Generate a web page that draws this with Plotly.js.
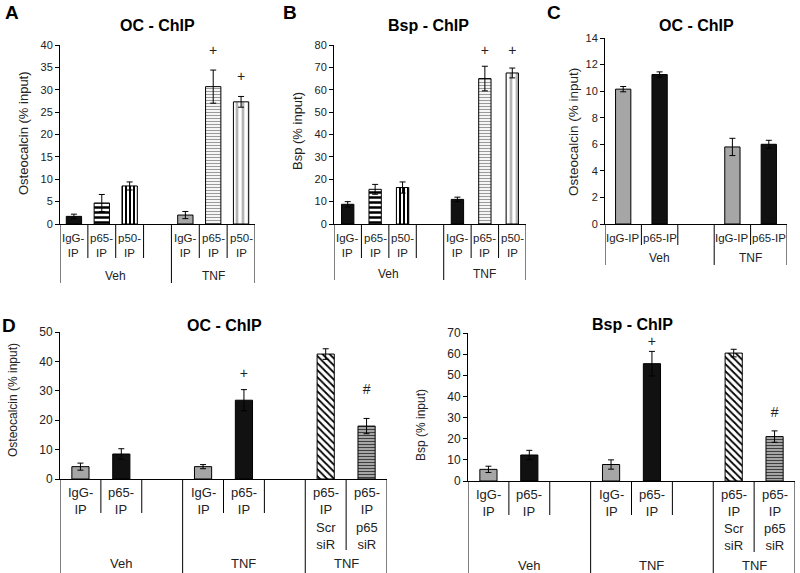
<!DOCTYPE html>
<html><head><meta charset="utf-8">
<script src="https://cdn.plot.ly/plotly-3.0.1.min.js"></script>
<style>body{margin:0;background:#fff;} #chart{width:800px;height:573px;}</style>
</head><body><div id="chart"></div>
<script>
// ---------- DATA ----------
// Panel A: OC - ChIP
const catsA = ["Veh IgG","Veh p65","Veh p50","gapA","TNF IgG","TNF p65","TNF p50"];
const tickLabelsA = ["IgG-<br>IP","p65-<br>IP","p50-<br>IP","","IgG-<br>IP","p65-<br>IP","p50-<br>IP"];
const groupNamesA = ["Veh","TNF"];
const groupSpansA = [[0,3],[4,6]];
const xA = ["Veh IgG","Veh p65","Veh p50","TNF IgG","TNF p65","TNF p50"];
const valA = [1.7, 4.7, 8.5, 2.0, 30.7, 27.3];
const errA = [0.5, 1.9, 0.9, 0.8, 3.7, 1.2];
const sigA = ["","","","","+","+"];
const sigYA = [null,null,null,null,38.5,32.8];

// Panel B: Bsp - ChIP
const catsB = ["Veh IgG","Veh p65","Veh p50","gapB","TNF IgG","TNF p65","TNF p50"];
const tickLabelsB = ["IgG-<br>IP","p65-<br>IP","p50-<br>IP","","IgG-<br>IP","p65-<br>IP","p50-<br>IP"];
const groupNamesB = ["Veh","TNF"];
const groupSpansB = [[0,3],[4,6]];
const xB = ["Veh IgG","Veh p65","Veh p50","TNF IgG","TNF p65","TNF p50"];
const valB = [8.8, 15.5, 16.3, 11.0, 65.0, 67.5];
const errB = [1.2, 2.2, 2.5, 1.0, 5.5, 2.2];
const sigB = ["","","","","+","+"];
const sigYB = [null,null,null,null,77,77];

// Panel C: OC - ChIP
const catsC = ["Veh IgG","Veh p65","gapC","TNF IgG","TNF p65"];
const tickLabelsC = ["IgG-IP","p65-IP","","IgG-IP","p65-IP"];
const groupNamesC = ["Veh","TNF"];
const groupSpansC = [[0,2],[3,4]];
const xC = ["Veh IgG","Veh p65","TNF IgG","TNF p65"];
const valC = [10.15, 11.25, 5.8, 6.0];
const errC = [0.2, 0.2, 0.65, 0.3];

// Panel D (left): OC - ChIP
const catsD1 = ["Veh IgG","Veh p65","gap1","TNF IgG","TNF p65","gap2","TNF Scr","TNF siR"];
const tickLabelsD1 = ["IgG-<br>IP","p65-<br>IP","","IgG-<br>IP","p65-<br>IP","","p65-<br>IP","p65-<br>IP"];
const subLabelsD1 = ["","","","","","","Scr<br>siR","p65<br>siR"];
const groupNamesD1 = ["Veh","TNF","TNF"];
const groupSpansD1 = [[0,2],[3,5],[6,7]];
const xD1 = ["Veh IgG","Veh p65","TNF IgG","TNF p65","TNF Scr","TNF siR"];
const valD1 = [4.2, 8.5, 4.2, 26.8, 42.5, 18.0];
const errD1 = [1.2, 1.8, 0.7, 3.6, 1.8, 2.6];
const sigD1 = ["","","","+","","#"];
const sigYD1 = [null,null,null,35.5,null,30];

// Panel D (right): Bsp - ChIP
const catsD2 = catsD1;
const tickLabelsD2 = tickLabelsD1;
const subLabelsD2 = subLabelsD1;
const groupNamesD2 = groupNamesD1;
const groupSpansD2 = groupSpansD1;
const xD2 = xD1;
const valD2 = [5.5, 12.3, 7.8, 55.5, 60.5, 21.0];
const errD2 = [1.5, 2.2, 2.2, 5.8, 1.8, 2.7];
const sigD2 = ["","","","+","","#"];
const sigYD2 = [null,null,null,65.5,null,32];

// ---------- STYLES ----------
const BLK = "#111111", GRY = "#a6a6a6", WHT = "#ffffff";
const styleA = {
  fill:  [BLK, WHT, WHT, GRY, WHT, WHT],
  shape: ["", "-", "|", "", "-", "|"],
  fg:    [BLK, "#000", "#000", BLK, "#9a9a9a", "#b5b5b5"],
  size:  [8, 5, 4, 8, 3, 6],
  sol:   [0.3, 0.5, 0.5, 0.3, 0.4, 0.45]
};
const styleB = {
  fill:  [BLK, WHT, WHT, BLK, WHT, WHT],
  shape: ["", "-", "|", "", "-", "|"],
  fg:    [BLK, "#000", "#000", BLK, "#9a9a9a", "#b5b5b5"],
  size:  [8, 5, 4, 8, 3, 6],
  sol:   [0.3, 0.5, 0.5, 0.3, 0.4, 0.45]
};
const styleC = {
  fill: [GRY, BLK, GRY, BLK], shape: ["","","",""], fg: [GRY,BLK,GRY,BLK], size:[8,8,8,8], sol:[0.3,0.3,0.3,0.3]
};
const styleD = {
  fill:  [GRY, BLK, GRY, BLK, WHT, GRY],
  shape: ["", "", "", "", "\\", "-"],
  fg:    [GRY, BLK, GRY, BLK, "#000", "#333"],
  size:  [8, 8, 8, 8, 5, 3],
  sol:   [0.3, 0.3, 0.3, 0.3, 0.35, 0.3]
};

const FONT = "Liberation Sans, Arial, sans-serif";
const TXT = "#222";
const W = 800, H = 573;
const px = p => p / W;
const py = p => 1 - p / H;

const panels = [
  {ax:"", cats:catsA, labels:tickLabelsA, subs:null, gN:groupNamesA, gS:groupSpansA, x:xA, v:valA, e:errA, sig:sigA, sigY:sigYA, st:styleA,
   x0:60, x1:255, yZero:224, yTop:45, range:[0,40], dtick:5, bw:0.55,
   lab:245, sub:null, grp:276, shortEnd:258, medEnd:258, longEnd:283, tf:11, lf:11.5, gf:12,
   title:"OC - ChIP", tX:157, tY:25, ytitle:"Osteocalcin (% input)", ytX:23, ytY:133, ytf:13, letter:"A", lX:12, lY:12},
  {ax:"2", cats:catsB, labels:tickLabelsB, subs:null, gN:groupNamesB, gS:groupSpansB, x:xB, v:valB, e:errB, sig:sigB, sigY:sigYB, st:styleB,
   x0:334, x1:526, yZero:224, yTop:45, range:[0,80], dtick:10, bw:0.45,
   lab:245, sub:null, grp:274, shortEnd:258, medEnd:258, longEnd:280, tf:11, lf:11.5, gf:12,
   title:"Bsp - ChIP", tX:428, tY:25, ytitle:"Bsp (% input)", ytX:297, ytY:131, ytf:13, letter:"B", lX:290, lY:12},
  {ax:"3", cats:catsC, labels:tickLabelsC, subs:null, gN:groupNamesC, gS:groupSpansC, x:xC, v:valC, e:errC, sig:null, sigY:null, st:styleC,
   x0:605, x1:787, yZero:224, yTop:38, range:[0,14], dtick:2, bw:0.42,
   lab:238, sub:null, grp:258, shortEnd:245, medEnd:245, longEnd:265, tf:11, lf:11.5, gf:12,
   title:"OC - ChIP", tX:696, tY:25, ytitle:"Osteocalcin (% input)", ytX:573, ytY:132, ytf:13.5, letter:"C", lX:554, lY:12},
  {ax:"4", cats:catsD1, labels:tickLabelsD1, subs:subLabelsD1, gN:groupNamesD1, gS:groupSpansD1, x:xD1, v:valD1, e:errD1, sig:sigD1, sigY:sigYD1, st:styleD,
   x0:60, x1:387, yZero:479, yTop:332, range:[0,50], dtick:10, bw:0.42,
   lab:501, sub:536, grp:563, shortEnd:513, medEnd:550, longEnd:573, tf:12, lf:13, gf:13,
   title:"OC - ChIP", tX:224, tY:325, ytitle:"Osteocalcin (% input)", ytX:13, ytY:400, ytf:12, letter:"D", lX:9, lY:325},
  {ax:"5", cats:catsD2, labels:tickLabelsD2, subs:subLabelsD2, gN:groupNamesD2, gS:groupSpansD2, x:xD2, v:valD2, e:errD2, sig:sigD2, sigY:sigYD2, st:styleD,
   x0:468, x1:795, yZero:481, yTop:333, range:[0,70], dtick:10, bw:0.42,
   lab:503, sub:537, grp:565, shortEnd:515, medEnd:552, longEnd:573, tf:12, lf:13, gf:13,
   title:"Bsp - ChIP", tX:632, tY:324, ytitle:"Bsp (% input)", ytX:421, ytY:425, ytf:12, letter:null}
];

const data = [];
const layout = {
  width: W, height: H, margin:{l:0,r:0,t:0,b:0}, barmode:"overlay",
  paper_bgcolor:"#fff", plot_bgcolor:"#fff", showlegend:false,
  font:{family:FONT, color:TXT},
  shapes:[], annotations:[]
};

panels.forEach(p => {
  const xa = "x" + p.ax, ya = "y" + p.ax;
  const n = p.cats.length;
  // one trace per bar so each bar carries its own fill pattern
  p.x.forEach((cx, i) => {
    const marker = {color:p.st.fill[i], opacity:1, line:{color:"#000", width:1}};
    if (p.st.shape[i]) {
      marker.pattern = {shape:p.st.shape[i], fgcolor:p.st.fg[i], bgcolor:p.st.fill[i],
        size:p.st.size[i], solidity:p.st.sol[i], fillmode:"replace", fgopacity:1};
    }
    data.push({
      type:"bar", x:[cx], y:[p.v[i]], xaxis:xa, yaxis:ya, width:p.bw, hoverinfo:"skip",
      marker:marker,
      error_y:{type:"data", array:[p.e[i]], visible:true, color:"#000", thickness:1, width:3}
    });
  });
  if (p.sig) {
    data.push({type:"scatter", mode:"text", x:p.x, y:p.sigY, text:p.sig, xaxis:xa, yaxis:ya,
      textfont:{family:FONT, size:14, color:TXT}, cliponaxis:false, hoverinfo:"skip"});
  }
  layout["xaxis" + p.ax] = {
    domain:[px(p.x0), px(p.x1)], anchor:ya, type:"category", categoryorder:"array", categoryarray:p.cats,
    range:[-0.5, n - 0.5], showline:true, linecolor:"#000", linewidth:1, ticks:"", showticklabels:false,
    showgrid:false, zeroline:false, fixedrange:true
  };
  layout["yaxis" + p.ax] = {
    domain:[py(p.yZero), py(p.yTop)], anchor:xa, range:p.range, dtick:p.dtick, ticks:"outside", ticklen:4,
    tickcolor:"#000", tickwidth:1, showline:true, linecolor:"#000", linewidth:1, showgrid:false, zeroline:false,
    tickfont:{family:FONT, size:p.tf, color:TXT}, fixedrange:true
  };
  // dividers
  const gb = new Set();
  p.gS.forEach(s => { gb.add(s[0] - 0.5); gb.add(s[1] + 0.5); });
  for (let i = 0; i <= n; i++) {
    const b = i - 0.5, L = i - 1, R = i;
    let end = null;
    if (gb.has(b)) end = p.longEnd;
    else if (p.subs && p.subs[L] && p.subs[R]) end = p.medEnd;
    else if ((p.labels[L]) || (p.labels[R])) end = p.shortEnd;
    if (end !== null) {
      layout.shapes.push({type:"line", xref:xa, yref:"paper", x0:b, x1:b, y0:py(p.yZero), y1:py(end),
        line:{color:"#000", width:1}});
    }
  }
  // category labels
  p.labels.forEach((t, i) => {
    if (!t) return;
    layout.annotations.push({xref:xa, yref:"paper", x:i, y:py(p.lab), text:t, showarrow:false,
      xanchor:"center", yanchor:"middle", font:{family:FONT, size:p.lf, color:TXT}});
  });
  if (p.subs) p.subs.forEach((t, i) => {
    if (!t) return;
    layout.annotations.push({xref:xa, yref:"paper", x:i, y:py(p.sub), text:t, showarrow:false,
      xanchor:"center", yanchor:"middle", font:{family:FONT, size:p.lf, color:TXT}});
  });
  p.gN.forEach((t, g) => {
    const s = p.gS[g];
    layout.annotations.push({xref:xa, yref:"paper", x:(s[0] + s[1]) / 2, y:py(p.grp), text:t, showarrow:false,
      xanchor:"center", yanchor:"middle", font:{family:FONT, size:p.gf, color:TXT}});
  });
  // titles
  layout.annotations.push({xref:"paper", yref:"paper", x:px(p.tX), y:py(p.tY), text:"<b>" + p.title + "</b>",
    showarrow:false, xanchor:"center", yanchor:"middle", font:{family:FONT, size:16, color:"#000"}});
  layout.annotations.push({xref:"paper", yref:"paper", x:px(p.ytX), y:py(p.ytY), text:p.ytitle, textangle:-90,
    showarrow:false, xanchor:"center", yanchor:"middle", font:{family:FONT, size:p.ytf, color:TXT}});
  if (p.letter) layout.annotations.push({xref:"paper", yref:"paper", x:px(p.lX), y:py(p.lY), text:"<b>" + p.letter + "</b>",
    showarrow:false, xanchor:"center", yanchor:"middle", font:{family:FONT, size:19, color:"#000"}});
});

Plotly.newPlot("chart", data, layout, {staticPlot:true, displayModeBar:false});
</script>
</body></html>
